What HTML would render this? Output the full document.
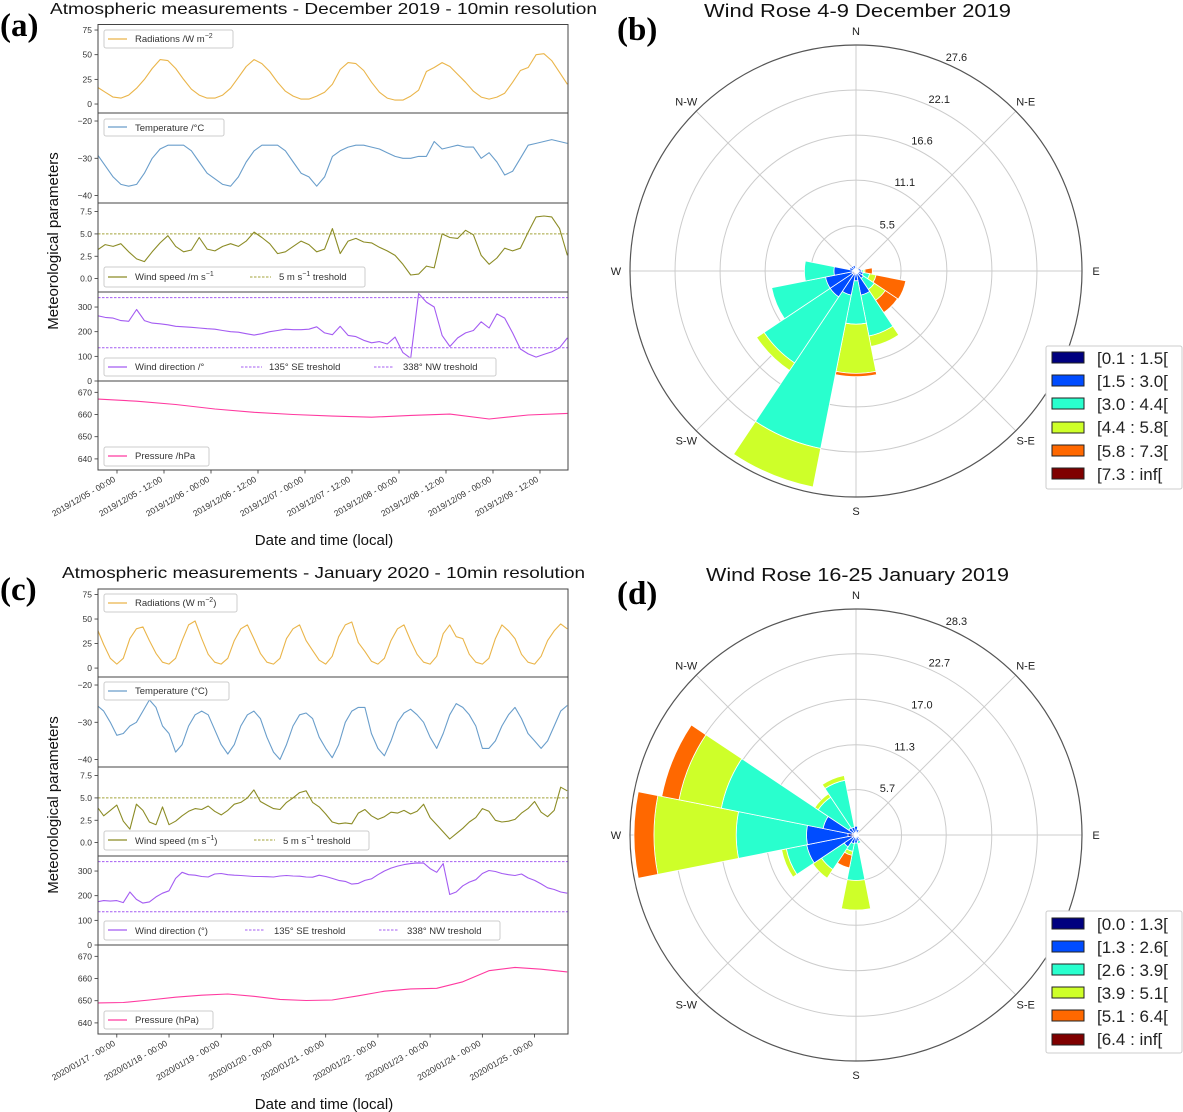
<!DOCTYPE html>
<html><head><meta charset="utf-8">
<style>
html,body{margin:0;padding:0;background:#fff;}
svg{display:block;font-family:"Liberation Sans","DejaVu Sans",sans-serif;}
.tk{font-size:8.5px;fill:#333;}
.lg{font-size:9.5px;fill:#333;}
</style></head>
<body>
<svg id="fig" width="1183" height="1112" viewBox="0 0 1183 1112" xmlns="http://www.w3.org/2000/svg">
<rect x="0" y="0" width="1183" height="1112" fill="#fff"/>
<!-- Panel labels and titles -->
<text x="0" y="36" font-family="Liberation Serif,serif" font-weight="bold" font-size="33">(a)</text>
<text x="617" y="40" font-family="Liberation Serif,serif" font-weight="bold" font-size="33">(b)</text>
<text x="0" y="600" font-family="Liberation Serif,serif" font-weight="bold" font-size="33">(c)</text>
<text x="617" y="604" font-family="Liberation Serif,serif" font-weight="bold" font-size="33">(d)</text>
<text x="50" y="14" font-size="16" textLength="547" lengthAdjust="spacingAndGlyphs" fill="#111">Atmospheric measurements - December 2019 - 10min resolution</text>
<text x="62" y="578" font-size="16" textLength="523" lengthAdjust="spacingAndGlyphs" fill="#111">Atmospheric measurements - January 2020 - 10min resolution</text>
<text x="704" y="17" font-size="18" textLength="307" lengthAdjust="spacingAndGlyphs" fill="#111">Wind Rose 4-9 December 2019</text>
<text x="706" y="581" font-size="18" textLength="303" lengthAdjust="spacingAndGlyphs" fill="#111">Wind Rose 16-25 January 2019</text>
<text transform="translate(58,241) rotate(-90)" text-anchor="middle" font-size="15" fill="#111">Meteorological parameters</text>
<text transform="translate(58,805) rotate(-90)" text-anchor="middle" font-size="15" fill="#111">Meteorological parameters</text>
<text x="324" y="545" text-anchor="middle" font-size="15" fill="#111">Date and time (local)</text>
<text x="324" y="1109" text-anchor="middle" font-size="15" fill="#111">Date and time (local)</text>
<g id="plots"></g>
<!-- Legends panel a -->
<g>
<rect x="104" y="30" width="129" height="18" fill="#fff" fill-opacity="0.85" stroke="#ccc" rx="2"/>
<line x1="108" y1="39" x2="127" y2="39" stroke="#eab54a" stroke-width="1.2"/>
<text class="lg" x="135" y="42">Radiations /W m<tspan dy="-4" font-size="7">−2</tspan></text></g>
<g>
<rect x="104" y="119" width="120" height="17" fill="#fff" fill-opacity="0.85" stroke="#ccc" rx="2"/>
<line x1="108" y1="127" x2="127" y2="127" stroke="#6a9ecb" stroke-width="1.2"/>
<text class="lg" x="135" y="131">Temperature /°C</text></g>
<g>
<rect x="104" y="267" width="261" height="20" fill="#fff" fill-opacity="0.85" stroke="#ccc" rx="2"/>
<line x1="108" y1="277" x2="127" y2="277" stroke="#8c8c26" stroke-width="1.2"/>
<text class="lg" x="135" y="280">Wind speed /m s<tspan dy="-4" font-size="7">−1</tspan></text>
<line x1="250" y1="277" x2="271" y2="277" stroke="#a3a33a" stroke-dasharray="2.5,1.5"/>
<text class="lg" x="279" y="280">5 m s<tspan dy="-4" font-size="7">−1</tspan><tspan dy="4"> treshold</tspan></text></g>
<g>
<rect x="104" y="358" width="392" height="18" fill="#fff" fill-opacity="0.85" stroke="#ccc" rx="2"/>
<line x1="108" y1="367" x2="127" y2="367" stroke="#a45cf2" stroke-width="1.2"/>
<text class="lg" x="135" y="370">Wind direction /°</text>
<line x1="241" y1="367" x2="262" y2="367" stroke="#a45cf2" stroke-dasharray="2.5,1.5"/>
<text class="lg" x="269" y="370">135° SE treshold</text>
<line x1="374" y1="367" x2="394" y2="367" stroke="#a45cf2" stroke-dasharray="2.5,1.5"/>
<text class="lg" x="403" y="370">338° NW treshold</text></g>
<g>
<rect x="104" y="447" width="105" height="19" fill="#fff" fill-opacity="0.85" stroke="#ccc" rx="2"/>
<line x1="108" y1="456" x2="127" y2="456" stroke="#ff3aa0" stroke-width="1.2"/>
<text class="lg" x="135" y="459">Pressure /hPa</text></g>
<!-- Legends panel c -->
<g>
<rect x="104" y="594" width="133" height="18" fill="#fff" fill-opacity="0.85" stroke="#ccc" rx="2"/>
<line x1="108" y1="603" x2="127" y2="603" stroke="#eab54a" stroke-width="1.2"/>
<text class="lg" x="135" y="606">Radiations (W m<tspan dy="-4" font-size="7">−2</tspan><tspan dy="4">)</tspan></text></g>
<g>
<rect x="104" y="682" width="125" height="18" fill="#fff" fill-opacity="0.85" stroke="#ccc" rx="2"/>
<line x1="108" y1="691" x2="127" y2="691" stroke="#6a9ecb" stroke-width="1.2"/>
<text class="lg" x="135" y="694">Temperature (°C)</text></g>
<g>
<rect x="104" y="831" width="265" height="19" fill="#fff" fill-opacity="0.85" stroke="#ccc" rx="2"/>
<line x1="108" y1="840" x2="127" y2="840" stroke="#8c8c26" stroke-width="1.2"/>
<text class="lg" x="135" y="844">Wind speed (m s<tspan dy="-4" font-size="7">−1</tspan><tspan dy="4">)</tspan></text>
<line x1="254" y1="840" x2="275" y2="840" stroke="#a3a33a" stroke-dasharray="2.5,1.5"/>
<text class="lg" x="283" y="844">5 m s<tspan dy="-4" font-size="7">−1</tspan><tspan dy="4"> treshold</tspan></text></g>
<g>
<rect x="104" y="921" width="396" height="19" fill="#fff" fill-opacity="0.85" stroke="#ccc" rx="2"/>
<line x1="108" y1="930" x2="127" y2="930" stroke="#a45cf2" stroke-width="1.2"/>
<text class="lg" x="135" y="934">Wind direction (°)</text>
<line x1="245" y1="930" x2="265" y2="930" stroke="#a45cf2" stroke-dasharray="2.5,1.5"/>
<text class="lg" x="274" y="934">135° SE treshold</text>
<line x1="379" y1="930" x2="399" y2="930" stroke="#a45cf2" stroke-dasharray="2.5,1.5"/>
<text class="lg" x="407" y="934">338° NW treshold</text></g>
<g>
<rect x="104" y="1011" width="109" height="18" fill="#fff" fill-opacity="0.85" stroke="#ccc" rx="2"/>
<line x1="108" y1="1020" x2="127" y2="1020" stroke="#ff3aa0" stroke-width="1.2"/>
<text class="lg" x="135" y="1023">Pressure (hPa)</text></g>
<!-- Rose legends -->
<g font-size="17" fill="#222">
<rect x="1046" y="346" width="136" height="143" fill="#fff" stroke="#ccc" rx="2"/>
<rect x="1052" y="352" width="32" height="11" fill="#00007f" stroke="#222"/><text x="1097" y="364">[0.1 : 1.5[</text>
<rect x="1052" y="375" width="32" height="11" fill="#004cff" stroke="#222"/><text x="1097" y="387">[1.5 : 3.0[</text>
<rect x="1052" y="398" width="32" height="11" fill="#29ffce" stroke="#222"/><text x="1097" y="410">[3.0 : 4.4[</text>
<rect x="1052" y="422" width="32" height="11" fill="#ceff29" stroke="#222"/><text x="1097" y="433">[4.4 : 5.8[</text>
<rect x="1052" y="445" width="32" height="11" fill="#ff6800" stroke="#222"/><text x="1097" y="457">[5.8 : 7.3[</text>
<rect x="1052" y="468" width="32" height="11" fill="#7f0000" stroke="#222"/><text x="1097" y="480">[7.3 : inf[</text>
</g>
<g font-size="17" fill="#222">
<rect x="1046" y="911" width="136" height="142" fill="#fff" stroke="#ccc" rx="2"/>
<rect x="1052" y="918" width="32" height="11" fill="#00007f" stroke="#222"/><text x="1097" y="930">[0.0 : 1.3[</text>
<rect x="1052" y="941" width="32" height="11" fill="#004cff" stroke="#222"/><text x="1097" y="953">[1.3 : 2.6[</text>
<rect x="1052" y="964" width="32" height="11" fill="#29ffce" stroke="#222"/><text x="1097" y="976">[2.6 : 3.9[</text>
<rect x="1052" y="987" width="32" height="11" fill="#ceff29" stroke="#222"/><text x="1097" y="999">[3.9 : 5.1[</text>
<rect x="1052" y="1010" width="32" height="11" fill="#ff6800" stroke="#222"/><text x="1097" y="1022">[5.1 : 6.4[</text>
<rect x="1052" y="1034" width="32" height="11" fill="#7f0000" stroke="#222"/><text x="1097" y="1045">[6.4 : inf[</text>
</g>
</svg>
<script>
// ===== Panel (a) data: hours since 2019/12/05 00:00 =====
const radA = [17,12,7,6,9,16,25,36,45,44,36,25,15,9,6,6,9,16,27,38,45,41,33,22,13,8,5,5,8,12,20,35,42,41,34,22,12,6,4,4,8,14,33,37,42,38,30,22,13,7,5,7,11,22,34,37,50,51,44,32,20];
const tempA = [-29,-32,-35,-37,-37.5,-37,-34,-30,-27.5,-26.5,-26.5,-26.5,-28,-31,-34,-35.5,-37,-37.5,-35,-31,-28,-26.5,-26.5,-26.5,-28,-31,-34,-35,-37.5,-35,-29.5,-28,-27,-26.5,-26.5,-27,-27.5,-28.5,-29.5,-30,-30,-29.5,-29.5,-25.5,-27.5,-27,-26.5,-27,-27,-30,-28.5,-31,-34.5,-33.5,-30,-26.5,-26,-25.5,-25,-25.5,-26];
const windA = [3.2,3.8,3.6,3.9,3.0,2.2,1.9,3.0,4.0,4.8,3.6,3.0,3.2,4.6,3.3,3.1,3.6,3.9,3.6,4.2,5.2,4.6,3.9,2.8,3.0,3.6,4.2,3.8,3.0,3.3,5.6,2.8,4.2,4.5,4.1,4.0,3.5,3.1,2.6,1.6,0.4,0.5,1.4,1.2,5.0,4.6,4.5,5.4,4.9,2.6,1.6,2.3,3.4,3.1,3.4,5.2,6.9,7.0,6.9,5.6,2.6];
const dirA = [265,258,255,245,242,290,245,235,232,228,222,220,218,215,212,210,205,200,198,192,186,192,200,205,210,208,208,210,220,195,188,222,185,180,165,155,160,150,178,115,92,355,320,300,185,140,175,195,205,240,215,272,255,195,130,110,97,108,118,135,175];
const presA = [667,666,664.5,662.5,661,660,659.3,658.8,659.6,660.2,658,659.8,660.5];
const timeA = radA.map((_, i) => -5 + 2 * i);
const timePA = presA.map((_, i) => -5 + 10 * i);
const tickHoursA = [0,12,24,36,48,60,72,84,96,108];
const tickLabelsA = ["2019/12/05 - 00:00","2019/12/05 - 12:00","2019/12/06 - 00:00","2019/12/06 - 12:00","2019/12/07 - 00:00","2019/12/07 - 12:00","2019/12/08 - 00:00","2019/12/08 - 12:00","2019/12/09 - 00:00","2019/12/09 - 12:00"];

// ===== Panel (c) data: days since 2020/01/17 00:00 =====
const radC = [40,24,10, 4,10,30,40,42,28,15,6, 4,10,28,44,48,30,14,6, 4,10,28,40,44,30,15,6, 4,10,30,40,44,28,18,8, 4,12,32,44,47,26,17,7, 4,10,28,40,44,28,14,6, 4,12,35,44,32,30,14,6, 4,10,30,44,38,30,14,6, 4,12,28,38,45,40];
const tempC = [-25.5,-27,-30, -33.5,-33,-31,-30,-27,-24,-26,-31, -33,-38,-36,-31,-28,-27,-28,-32, -36,-38.5,-36,-31,-28,-27,-29,-34, -38,-40,-36,-31,-28,-27.5,-29,-34, -37,-39.5,-36,-30,-27,-26,-26,-33, -37,-39,-35,-30,-27.5,-26.5,-28,-30, -34,-37,-33,-28,-25,-26,-28,-31, -37,-37,-35,-31,-28,-26,-29,-33, -35,-37,-35,-31,-27,-25.5];
const windC = [4.0,3.0,3.6, 4.2,2.4,1.5,4.3,3.6,2.3,2.0,4.0, 2.0,2.4,3.0,3.5,3.8,3.7,4.1,3.5, 3.1,3.6,4.3,4.5,5.0,5.9,4.6,4.2, 3.8,3.7,4.5,5.0,5.6,5.8,4.5,4.0, 3.2,2.3,2.1,2.2,2.1,3.3,3.7,3.0, 2.6,2.9,3.4,3.3,3.6,3.2,3.5,4.3, 2.8,2.0,1.2,0.4,1.0,1.6,2.3,2.8, 3.8,3.5,2.5,2.3,2.4,2.6,3.3,3.8, 4.6,3.4,2.9,3.6,6.2,5.8];
const dirC = [175,180,178, 180,172,215,185,170,175,195,210, 220,270,295,285,283,278,276,288, 290,285,283,282,280,278,278,277, 276,280,282,280,279,276,275,283, 278,270,262,258,247,250,262,268, 285,300,312,320,326,330,333,332, 310,295,330,205,215,240,255,265, 290,302,298,290,285,282,288,272, 262,248,232,225,215,210];
const presC = [649,649.2,650.3,651.6,652.5,653,652,650.6,650.1,650.3,652.2,654.3,655.3,655.6,658.5,663.5,665,664.2,663];
const timeC = radC.map((_, i) => -0.375 + 0.125 * i);
const timePC = presC.map((_, i) => -0.375 + 0.5 * i);
const tickDaysC = [0,1,2,3,4,5,6,7,8];
const tickLabelsC = ["2020/01/17 - 00:00","2020/01/18 - 00:00","2020/01/19 - 00:00","2020/01/20 - 00:00","2020/01/21 - 00:00","2020/01/22 - 00:00","2020/01/23 - 00:00","2020/01/24 - 00:00","2020/01/25 - 00:00"];

// ===== Subplot y-axis ticks =====
const yTicksRad = [0,25,50,75];
const yTicksTemp = [-40,-30,-20];
const yTicksWind = [0,2.5,5,7.5];
const yTickLabelsWind = ["0.0","2.5","5.0","7.5"];
const yTicksDir = [0,100,200,300];
const yTicksPres = [640,650,660,670];
const windThreshold = [5];
const dirThresholds = [135,338];

// ===== Wind rose data: 16 directions (N clockwise), 6 speed bins, frequency % =====
const roseDirs = ["N","NNE","NE","ENE","E","ESE","SE","SSE","S","SSW","SW","WSW","W","WNW","NW","NNW"];
const roseB = [
 [0.2,0.3,0,0,0,0],[0.2,0.2,0,0,0,0],[0.1,0.2,0,0,0,0],[0.2,0.4,0,0,0,0],
 [0.3,0.4,0.2,0.2,0.9,0],[0.3,0.6,0.8,0.8,3.7,0],[0.3,0.8,1.6,1.6,1.8,0],[0.4,2.6,5.1,1.3,0,0],
 [0.3,0.9,5.3,6.0,0.4,0],[0.5,2.5,19.1,4.8,0,0],[0.5,3.3,9.7,1.1,0,0],[0.5,3.3,6.7,0,0,0],
 [0.4,2.3,3.6,0,0,0],[0.3,0.5,0,0,0,0],[0.3,0.4,0,0,0,0],[0.3,0.4,0,0,0,0]];
const roseD = [
 [0.3,0.8,0,0,0,0],[0.2,0.5,0,0,0,0],[0.1,0.3,0,0,0,0],[0.1,0.2,0,0,0,0],
 [0.1,0.2,0,0,0,0],[0.1,0.2,0,0,0,0],[0.2,0.3,0,0,0,0],[0.2,0.6,0.3,0,0,0],
 [0.2,0.8,4.7,3.7,0,0],[0.3,0.8,1.0,0.5,1.6,0],[0.3,1.5,3.4,1.3,0,0],[0.5,5.8,2.6,0.6,0,0],
 [1.0,5.2,8.8,10.3,2.5,0],[0.5,3.7,13.0,5.4,2.2,0],[0.3,0.8,4.6,0.5,0,0],[0.3,0.7,6.0,0.6,0,0]];
const ringsB = [5.5,11.1,16.6,22.1,27.6];
const ringsD = [5.7,11.3,17.0,22.7,28.3];
const binColors = ["#00007f","#004cff","#29ffce","#ceff29","#ff6800","#7f0000"];

const NS = 'http://www.w3.org/2000/svg';
const root = document.getElementById('plots');
function mk(tag, attrs, parent) {
  const e = document.createElementNS(NS, tag);
  for (const k in attrs) e.setAttribute(k, attrs[k]);
  (parent || root).appendChild(e);
  return e;
}

const X0 = 98, X1 = 568;
const ranges = [[-9.1,80.6],[-42,-17.85],[-1.5,8.46],[0,361],[635,675.1]];
const rowNames = ['radiation','temperature','wind-speed','wind-direction','pressure'];

function drawPanel(p) {
  const xs = v => X0 + (v - p.xmin) / (p.xmax - p.xmin) * (X1 - X0);
  const g = mk('g', {});
  
  
  const defs = mk('defs', {}, g);
  for (let r = 0; r < 5; r++) {
    const top = p.rows[r], bot = p.rows[r + 1];
    const lo = ranges[r][0], hi = ranges[r][1];
    const ys = v => bot - (v - lo) / (hi - lo) * (bot - top);
    const cp = mk('clipPath', {id: 'cp' + p.id + r}, defs);
    mk('rect', {x: X0, y: top, width: X1 - X0, height: bot - top}, cp);
    const sub = mk('g', {}, g);
    
    
    // thresholds
    const th = r === 2 ? windThreshold : (r === 3 ? dirThresholds : []);
    th.forEach(v => {
      const l = mk('line', {x1: X0, x2: X1, y1: ys(v), y2: ys(v), stroke: r === 2 ? '#a3a33a' : '#a45cf2', 'stroke-width': 1, 'stroke-dasharray': '2.5,1.5'}, sub);
      
      
    });
    const s = p.series[r];
    let d = '';
    s.vals.forEach((v, i) => { d += (i ? 'L' : 'M') + xs(s.t[i]).toFixed(1) + ',' + ys(v).toFixed(1); });
    const path = mk('path', {d: d, fill: 'none', stroke: s.color, 'stroke-width': 1.1, 'stroke-linejoin': 'round', 'clip-path': 'url(#cp' + p.id + r + ')'}, sub);
    
    
    // y ticks
    p.yt[r].forEach((v, i) => {
      const y = ys(v);
      mk('line', {x1: X0 - 3.5, x2: X0, y1: y, y2: y, stroke: '#333', 'stroke-width': 0.8}, sub);
      const t = mk('text', {x: X0 - 6, y: y + 3, 'text-anchor': 'end', class: 'tk'}, sub);
      t.textContent = p.ytl[r][i];
      
      
    });
    const fr = mk('rect', {x: X0, y: top, width: X1 - X0, height: bot - top, fill: 'none', stroke: '#444', 'stroke-width': 1}, sub);
    
    
  }
  const bottom = p.rows[5];
  p.xt.forEach((v, i) => {
    const x = xs(v);
    mk('line', {x1: x, x2: x, y1: bottom, y2: bottom + 3.5, stroke: '#333', 'stroke-width': 0.8}, g);
    const t = mk('text', {x: 0, y: 0, 'text-anchor': 'end', class: 'tk', transform: 'translate(' + (x - 1) + ',' + (bottom + 11) + ') rotate(-30)'}, g);
    t.textContent = p.xtl[i];
    
    
  });
}

const ytlRad = yTicksRad.map(String), ytlTemp = yTicksTemp.map(v => String(v).replace('-', '\u2212'));
const ytlDir = yTicksDir.map(String), ytlPres = yTicksPres.map(String);
drawPanel({id: 'a', xmin: -4.85, xmax: 115.15, rows: [24.5,113,203,292,381,470],
  series: [{t: timeA, vals: radA, color: '#eab54a'}, {t: timeA, vals: tempA, color: '#6a9ecb'}, {t: timeA, vals: windA, color: '#8c8c26'}, {t: timeA, vals: dirA, color: '#a45cf2'}, {t: timePA, vals: presA, color: '#ff3aa0'}],
  yt: [yTicksRad, yTicksTemp, yTicksWind, yTicksDir, yTicksPres], ytl: [ytlRad, ytlTemp, yTickLabelsWind, ytlDir, ytlPres],
  xt: tickHoursA, xtl: tickLabelsA});
drawPanel({id: 'c', xmin: -0.36, xmax: 8.64, rows: [589,677,767,856,945,1034],
  series: [{t: timeC, vals: radC, color: '#eab54a'}, {t: timeC, vals: tempC, color: '#6a9ecb'}, {t: timeC, vals: windC, color: '#8c8c26'}, {t: timeC, vals: dirC, color: '#a45cf2'}, {t: timePC, vals: presC, color: '#ff3aa0'}],
  yt: [yTicksRad, yTicksTemp, yTicksWind, yTicksDir, yTicksPres], ytl: [ytlRad, ytlTemp, yTickLabelsWind, ytlDir, ytlPres],
  xt: tickDaysC, xtl: tickLabelsC});

// ===== Wind roses =====
const compass = [['N',0],['N-E',45],['E',90],['S-E',135],['S',180],['S-W',225],['W',270],['N-W',315]];
function drawRose(id, cx, cy, R, data, rings) {
  const rmax = rings[rings.length - 1];
  const rs = v => v / rmax * R;
  const pt = (r, a) => [cx + r * Math.sin(a * Math.PI / 180), cy - r * Math.cos(a * Math.PI / 180)];
  const g = mk('g', {});
  
  
  rings.slice(0, -1).forEach(v => { mk('circle', {cx: cx, cy: cy, r: rs(v), fill: 'none', stroke: '#ccc', 'stroke-width': 1}, g); });
  compass.forEach(c => { const p = pt(R, c[1]); mk('line', {x1: cx, y1: cy, x2: p[0], y2: p[1], stroke: '#ccc', 'stroke-width': 1}, g); });
  data.forEach((bins, di) => {
    const a = di * 22.5, a0 = a - 11.25, a1 = a + 11.25;
    let cum = 0;
    bins.forEach((f, bi) => {
      if (f <= 0) return;
      const r0 = rs(cum), r1 = rs(cum + f);
      cum += f;
      const p1 = pt(r1, a0), p2 = pt(r1, a1), p3 = pt(r0, a1), p4 = pt(r0, a0);
      const d = 'M' + p1.join(',') + 'A' + r1 + ',' + r1 + ' 0 0 1 ' + p2.join(',') + 'L' + p3.join(',') + (r0 > 0 ? 'A' + r0 + ',' + r0 + ' 0 0 0 ' + p4.join(',') : '') + 'Z';
      const w = mk('path', {d: d, fill: binColors[bi], stroke: '#fff', 'stroke-width': 0.8}, g);
      
      
    });
  });
  mk('circle', {cx: cx, cy: cy, r: R, fill: 'none', stroke: '#555', 'stroke-width': 1.2}, g);
  compass.forEach(c => {
    const p = pt(R + 14, c[1]);
    const t = mk('text', {x: p[0], y: p[1] + 4, 'text-anchor': 'middle', 'font-size': 11, fill: '#222'}, g);
    t.textContent = c[0];
    
    
  });
  rings.forEach(v => {
    const p = pt(rs(v), 22.5);
    const t = mk('text', {x: p[0] + 14, y: p[1] - 1, 'text-anchor': 'middle', 'font-size': 11, fill: '#222'}, g);
    t.textContent = v.toFixed(1);
    
    
  });
}
drawRose('b', 856, 271, 226, roseB, ringsB);
drawRose('d', 856, 835, 226, roseD, ringsD);
</script>
</body></html>
